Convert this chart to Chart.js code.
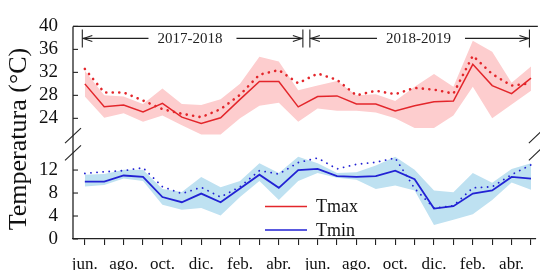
<!DOCTYPE html>
<html>
<head>
<meta charset="utf-8">
<script src="https://cdn.jsdelivr.net/npm/chart.js@4.4.1/dist/chart.umd.min.js"></script>
<style>
  body { margin: 0; background: #fff; }
  #wrap { width: 540px; height: 270px; position: relative; }
</style>
</head>
<body>
<div id="wrap"><canvas id="grafico"></canvas></div>
<script>
// Meses (jun 2017 - may 2019)
const meses = ['jun.', 'jul.', 'ago.', 'sep.', 'oct.', 'nov.', 'dic.', 'ene.', 'feb.', 'mar.', 'abr.', 'may.',
               'jun.', 'jul.', 'ago.', 'sep.', 'oct.', 'nov.', 'dic.', 'ene.', 'feb.', 'mar.', 'abr.', 'may.'];

// Tmax
const tmax      = [30.0, 26.0, 26.3, 25.1, 26.6, 24.2, 23.1, 24.1, 27.3, 30.4, 30.4, 26.0,
                   27.8, 27.9, 26.5, 26.5, 25.3, 26.2, 26.9, 27.0, 33.4, 29.7, 28.3, 31.0];
const tmaxMedia = [32.6, 28.5, 28.5, 27.1, 25.6, 24.8, 24.2, 25.6, 28.1, 31.6, 32.4, 30.1,
                   31.8, 30.7, 28.0, 28.8, 28.2, 29.3, 29.0, 28.3, 34.9, 31.7, 29.7, 30.1];
const tmaxSup   = [32.3, 28.0, 27.8, 26.5, 29.2, 26.5, 26.3, 27.3, 30.0, 34.7, 33.9, 28.9,
                   29.7, 30.5, 28.0, 28.2, 27.0, 29.5, 31.7, 29.5, 37.5, 35.6, 30.2, 33.0];
const tmaxInf   = [27.8, 24.1, 24.9, 23.4, 24.5, 22.8, 21.2, 21.2, 24.0, 26.2, 26.7, 23.4,
                   25.7, 25.3, 25.3, 25.0, 24.0, 22.3, 22.3, 24.5, 29.5, 24.0, 26.4, 28.8];

// Tmin
const tmin      = [10.0, 10.0, 11.05, 10.8, 7.3, 6.4, 7.9, 6.4, 8.8, 11.2, 8.9, 12.0,
                   12.2, 10.95, 10.8, 10.95, 11.9, 10.4, 5.3, 5.7, 7.9, 8.45, 10.8, 10.5];
const tminMedia = [11.4, 11.7, 11.9, 12.4, 9.1, 7.9, 9.0, 7.3, 9.1, 11.9, 11.3, 13.3,
                   14.1, 12.2, 13.0, 13.35, 14.1, 8.8, 5.4, 5.8, 8.9, 9.1, 11.2, 12.9];
const tminSup   = [11.2, 11.3, 12.05, 12.05, 8.7, 8.2, 10.8, 9.0, 10.1, 13.2, 11.5, 14.3,
                   13.2, 11.5, 11.6, 12.8, 14.3, 12.05, 8.45, 8.15, 11.5, 9.8, 12.2, 13.2];
const tminInf   = [9.15, 9.4, 10.55, 10.1, 5.95, 5.1, 5.4, 4.1, 7.3, 10.1, 6.8, 10.1,
                   11.5, 10.65, 10.3, 8.7, 9.3, 8.45, 2.45, 3.35, 4.3, 6.8, 9.85, 8.55];

// Ticks dos eixos
const ticksSup = [24, 28, 32, 36, 40];
const ticksInf = [0, 4, 8, 12];
const periodos = ['2017-2018', '2018-2019'];

const FONTE = "'Liberation Serif', 'Times New Roman', serif";
const VERMELHO = '#e3262b';
const AZUL = '#2222d4';

// Desenha moldura, quebras do eixo, anotações e legenda
const decoracao = {
  id: 'decoracao',
  afterDraw(chart) {
    const { ctx, chartArea: a, scales } = chart;
    const sx = scales.x, yT = scales.yTop, yB = scales.yBot;
    const linha = (x1, y1, x2, y2) => { ctx.beginPath(); ctx.moveTo(x1, y1); ctx.lineTo(x2, y2); ctx.stroke(); };

    ctx.save();
    ctx.strokeStyle = '#222';
    ctx.lineWidth = 1.3;
    linha(a.left, a.top, a.left, a.bottom);
    linha(a.left, a.top, a.right + 2, a.top);

    // ticks internos do eixo y
    ctx.lineWidth = 1.1;
    [[yT, ticksSup], [yB, ticksInf]].forEach(([s, vals]) => {
      vals.forEach(v => { const py = s.getPixelForValue(v); linha(a.left, py, a.left + 5, py); });
    });

    // marcas de quebra
    const q1 = yT.bottom, q2 = yB.getPixelForValue(15);
    [a.left, a.right + 1].forEach(px => {
      [q1, q2].forEach(py => linha(px - 8, py + 7.5, px + 8, py - 7.5));
    });

    // anotações dos períodos
    ctx.font = '15px ' + FONTE;
    ctx.fillStyle = '#222';
    ctx.textAlign = 'center';
    ctx.textBaseline = 'middle';
    const ya = a.top + 12;
    const faixas = [[-0.13, 11.24, 5.42], [11.6, 22.92, 17.2]];
    faixas.forEach(([i0, i1, ic], k) => {
      const x0 = sx.getPixelForValue(i0), x1 = sx.getPixelForValue(i1), xc = sx.getPixelForValue(ic);
      const w = ctx.measureText(periodos[k]).width;
      linha(x0, ya - 9, x0, ya + 9);
      linha(x1, ya - 9, x1, ya + 9);
      linha(x0, ya, xc - w / 2 - 9, ya);
      linha(xc + w / 2 + 14, ya, x1, ya);
      linha(x0 + 1, ya, x0 + 10, ya - 3); linha(x0 + 1, ya, x0 + 10, ya + 3);
      linha(x1 - 1, ya, x1 - 10, ya - 3); linha(x1 - 1, ya, x1 - 10, ya + 3);
      ctx.fillText(periodos[k], xc, ya + 0.5);
    });

    // legenda
    ctx.font = '18px ' + FONTE;
    ctx.textAlign = 'left';
    [['Tmax', VERMELHO, 206.5], ['Tmin', AZUL, 230]].forEach(([txt, cor, py]) => {
      ctx.strokeStyle = cor;
      ctx.lineWidth = 1.6;
      linha(265, py, 307, py);
      ctx.fillStyle = '#111';
      ctx.fillText(txt, 316, py + 1);
    });

    // título do eixo y
    ctx.translate(19, 139);
    ctx.rotate(-Math.PI / 2);
    ctx.textAlign = 'center';
    ctx.font = '26px ' + FONTE;
    ctx.fillText('Temperatura (°C)', 0, 0);
    ctx.restore();
  }
};

const banda = (dados, eixo, cor, preenche) => ({
  data: dados, yAxisID: eixo, borderWidth: 0, pointRadius: 0,
  backgroundColor: cor, fill: preenche ? '+1' : false, tension: 0
});

const serie = (dados, eixo, cor, largura, tracejado) => ({
  data: dados, yAxisID: eixo, borderColor: cor, borderWidth: largura, pointRadius: 0,
  borderDash: tracejado || [], borderCapStyle: tracejado ? 'round' : 'butt', fill: false, tension: 0
});

const eixoY = (min, max, peso, valores) => ({
  type: 'linear', position: 'left', stack: 'temp', stackWeight: peso,
  min: min, max: max,
  grid: { display: false, drawTicks: false },
  border: { display: false },
  afterBuildTicks: s => { s.ticks = valores.map(v => ({ value: v })); },
  afterFit: s => { s.width = 73; },
  ticks: { autoSkip: false, padding: 15, color: '#111', font: { family: FONTE, size: 19 } }
});

new Chart(document.getElementById('grafico'), {
  type: 'line',
  data: {
    labels: meses.map((m, i) => i),
    datasets: [
      banda(tmaxSup, 'yTop', 'rgba(253, 205, 206, 1)', true),
      banda(tmaxInf, 'yTop', 'rgba(0,0,0,0)', false),
      banda(tminSup, 'yBot', 'rgba(190, 225, 241, 1)', true),
      banda(tminInf, 'yBot', 'rgba(0,0,0,0)', false),
      serie(tmaxMedia, 'yTop', VERMELHO, 2.6, [0.1, 6.4]),
      serie(tmax, 'yTop', VERMELHO, 1.5),
      serie(tminMedia, 'yBot', AZUL, 1.8, [0.1, 6]),
      serie(tmin, 'yBot', AZUL, 1.8)
    ]
  },
  options: {
    responsive: true,
    maintainAspectRatio: false,
    animation: false,
    layout: { padding: { top: 17, right: 0, left: 0, bottom: 0 } },
    plugins: {
      legend: { display: false },
      tooltip: { enabled: false },
      filler: { drawTime: 'beforeDatasetsDraw' }
    },
    scales: {
      x: {
        type: 'linear', min: -0.61, max: 23.25,
        afterBuildTicks: s => { s.ticks = meses.map((m, i) => ({ value: i })); },
        afterFit: s => { s.height = 31; },
        grid: { display: true, drawOnChartArea: false, drawTicks: true, tickLength: 6, color: '#222', lineWidth: 1.1 },
        border: { display: true, color: '#222', width: 1.3 },
        ticks: {
          autoSkip: false, maxRotation: 0, minRotation: 0, padding: 9,
          color: '#111', font: { family: FONTE, size: 17 },
          callback: v => (v % 2 === 0 ? meses[v] : '')
        }
      },
      // a ordem aqui define o empilhamento: o último fica em cima
      yBot: eixoY(0, 18, 18, ticksInf),
      yTop: eixoY(21, 40, 19, ticksSup)
    }
  },
  plugins: [decoracao]
});
</script>
</body>
</html>
